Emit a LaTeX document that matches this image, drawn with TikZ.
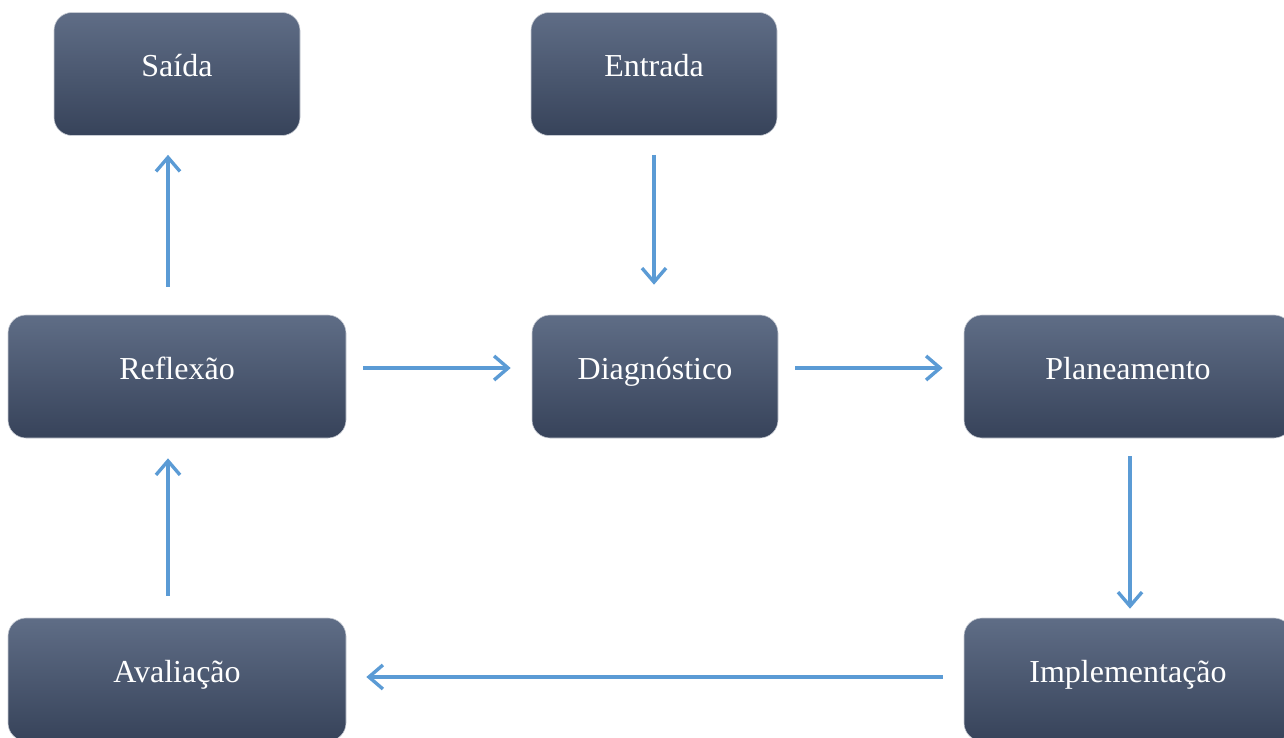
\documentclass[tikz,border=0pt]{standalone}
\usepackage{fontspec}
\setmainfont{Liberation Serif}
\usetikzlibrary{arrows.meta}
\definecolor{boxtop}{RGB}{95,109,134}
\definecolor{boxbot}{RGB}{55,67,90}
\definecolor{boxedge}{RGB}{200,204,212}
\definecolor{flow}{RGB}{91,155,213}
\tikzset{
  stage/.style={rounded corners=18pt, top color=boxtop, bottom color=boxbot,
    draw=boxedge, line width=0.6pt, text=white, font=\fontsize{32}{36}\selectfont,
    minimum width=246pt, minimum height=123pt, text height=22pt, text depth=17pt,
    inner sep=0pt},
  widestage/.style={stage, minimum width=338pt},
  flowarrow/.style={draw=flow, line width=3.4pt,
    -{Straight Barb[length=14pt, width=24pt, line width=3.4pt]}}
}
\begin{document}
\begin{tikzpicture}[x=1pt, y=-1pt]
  \useasboundingbox (0,0) rectangle (1284,738);
  % stages of the cycle
  \node[stage]     (said) at (177,74)    {Saída};
  \node[stage]     (entr) at (654,74)    {Entrada};
  \node[widestage] (refl) at (177,376.5) {Reflexão};
  \node[stage]     (diag) at (655,376.5) {Diagnóstico};
  \node[stage, minimum width=328pt] (plan) at (1128,376.5) {Planeamento};
  \node[widestage] (aval) at (177,679.5) {Avaliação};
  \node[stage, minimum width=328pt] (impl) at (1128,679.5) {Implementação};
  % flow between the stages (yshift is measured upwards)
  \draw[flowarrow] ([xshift=-9pt, yshift=28pt]refl.north) -- ([xshift=-9pt, yshift=-19pt]said.south);
  \draw[flowarrow] ([yshift=-19pt]entr.south) -- ([xshift=-1pt, yshift=30pt]diag.north);
  \draw[flowarrow] ([xshift=17pt, yshift=8.5pt]refl.east) -- ([xshift=-21pt, yshift=8.5pt]diag.west);
  \draw[flowarrow] ([xshift=17pt, yshift=8.5pt]diag.east) -- ([xshift=-21pt, yshift=8.5pt]plan.west);
  \draw[flowarrow] ([xshift=2pt, yshift=-18pt]plan.south) -- ([xshift=2pt, yshift=9pt]impl.north);
  \draw[flowarrow] ([xshift=-21pt, yshift=2.5pt]impl.west) -- ([xshift=20pt, yshift=2.5pt]aval.east);
  \draw[flowarrow] ([xshift=-9pt, yshift=22pt]aval.north) -- ([xshift=-9pt, yshift=-20pt]refl.south);
\end{tikzpicture}
\end{document}
